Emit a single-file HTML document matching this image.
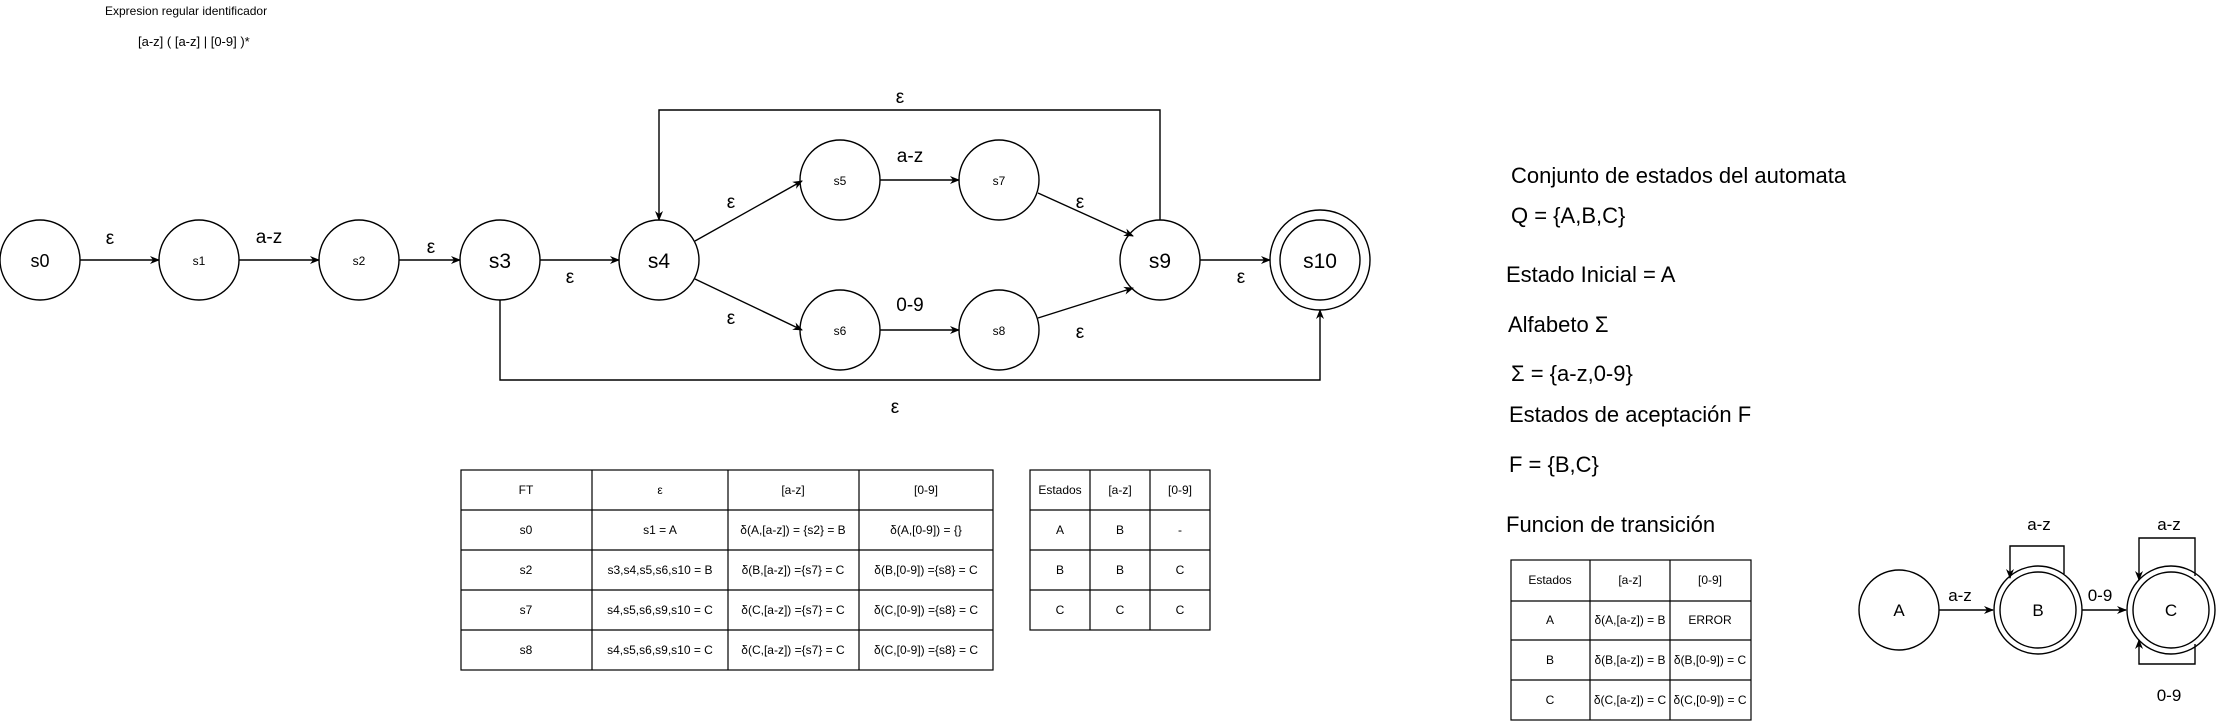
<!DOCTYPE html>
<html><head><meta charset="utf-8"><style>
html,body{margin:0;padding:0;background:#fff}
svg{display:block}
text{font-family:"Liberation Sans",sans-serif;fill:#000}
</style></head><body>
<svg width="2216" height="721" viewBox="0 0 2216 721" xmlns="http://www.w3.org/2000/svg">
<defs><marker id="a" markerWidth="10" markerHeight="10" refX="9" refY="5" orient="auto" markerUnits="userSpaceOnUse"><path d="M0,1 L10,5 L0,9 L3,5 Z" fill="#000"/></marker></defs>
<text x="105" y="15" font-size="12">Expresion regular identificador</text>
<text x="138" y="46" font-size="13">[a-z]  ( [a-z] | [0-9] )*</text>
<g fill="none" stroke="#000" stroke-width="1.4">
<circle cx="40" cy="260" r="40"/><circle cx="199" cy="260" r="40"/><circle cx="359" cy="260" r="40"/>
<circle cx="500" cy="260" r="40"/><circle cx="659" cy="260" r="40"/>
<circle cx="840" cy="180" r="40"/><circle cx="999" cy="180" r="40"/>
<circle cx="840" cy="330" r="40"/><circle cx="999" cy="330" r="40"/>
<circle cx="1160" cy="260" r="40"/><circle cx="1320" cy="260" r="50"/><circle cx="1320" cy="260" r="40"/>
<line x1="80" y1="260" x2="159" y2="260" marker-end="url(#a)"/>
<line x1="239" y1="260" x2="319" y2="260" marker-end="url(#a)"/>
<line x1="399" y1="260" x2="460" y2="260" marker-end="url(#a)"/>
<line x1="540" y1="260" x2="619" y2="260" marker-end="url(#a)"/>
<line x1="695" y1="241" x2="802" y2="181" marker-end="url(#a)"/>
<line x1="695" y1="279" x2="802" y2="330" marker-end="url(#a)"/>
<line x1="880" y1="180" x2="959" y2="180" marker-end="url(#a)"/>
<line x1="880" y1="330" x2="959" y2="330" marker-end="url(#a)"/>
<line x1="1038" y1="193" x2="1133" y2="236" marker-end="url(#a)"/>
<line x1="1038" y1="318" x2="1133" y2="288" marker-end="url(#a)"/>
<line x1="1200" y1="260" x2="1270" y2="260" marker-end="url(#a)"/>
<polyline points="1160,220 1160,110 659,110 659,220" marker-end="url(#a)"/>
<polyline points="500,300 500,380 1320,380 1320,310" marker-end="url(#a)"/>
</g>
<g text-anchor="middle">
<text x="40" y="267" font-size="18">s0</text><text x="199" y="265" font-size="12">s1</text><text x="359" y="265" font-size="12">s2</text>
<text x="500" y="268" font-size="21">s3</text><text x="659" y="268" font-size="21">s4</text>
<text x="840" y="185" font-size="12">s5</text><text x="999" y="185" font-size="12">s7</text>
<text x="840" y="335" font-size="12">s6</text><text x="999" y="335" font-size="12">s8</text>
<text x="1160" y="268" font-size="21">s9</text><text x="1320" y="268" font-size="21">s10</text>
<g font-size="19">
<text x="110" y="244">ε</text><text x="269" y="243">a-z</text><text x="431" y="253">ε</text><text x="570" y="283">ε</text>
<text x="731" y="208">ε</text><text x="731" y="324">ε</text><text x="910" y="162">a-z</text><text x="910" y="311">0-9</text>
<text x="1080" y="208">ε</text><text x="1080" y="338">ε</text><text x="1241" y="283">ε</text>
<text x="900" y="103">ε</text><text x="895" y="413">ε</text>
</g>
</g>
<!-- table 1 -->
<g fill="none" stroke="#000" stroke-width="1.2">
<rect x="461" y="470" width="532" height="200"/>
<line x1="592" y1="470" x2="592" y2="670"/><line x1="728" y1="470" x2="728" y2="670"/><line x1="859" y1="470" x2="859" y2="670"/>
<line x1="461" y1="510" x2="993" y2="510"/><line x1="461" y1="550" x2="993" y2="550"/><line x1="461" y1="590" x2="993" y2="590"/><line x1="461" y1="630" x2="993" y2="630"/>
<rect x="1030" y="470" width="180" height="160"/>
<line x1="1090" y1="470" x2="1090" y2="630"/><line x1="1150" y1="470" x2="1150" y2="630"/>
<line x1="1030" y1="510" x2="1210" y2="510"/><line x1="1030" y1="550" x2="1210" y2="550"/><line x1="1030" y1="590" x2="1210" y2="590"/>
<rect x="1511" y="560" width="240" height="160"/>
<line x1="1590" y1="560" x2="1590" y2="720"/><line x1="1670" y1="560" x2="1670" y2="720"/>
<line x1="1511" y1="601" x2="1751" y2="601"/><line x1="1511" y1="640" x2="1751" y2="640"/><line x1="1511" y1="680" x2="1751" y2="680"/>
</g>
<g text-anchor="middle" font-size="12">
<text x="526" y="494">FT</text><text x="660" y="494">ε</text><text x="793" y="494">[a-z]</text><text x="926" y="494">[0-9]</text>
<text x="526" y="534">s0</text><text x="660" y="534">s1 = A</text><text x="793" y="534">δ(A,[a-z]) = {s2} = B</text><text x="926" y="534">δ(A,[0-9]) = {}</text>
<text x="526" y="574">s2</text><text x="660" y="574">s3,s4,s5,s6,s10 = B</text><text x="793" y="574">δ(B,[a-z]) ={s7} = C</text><text x="926" y="574">δ(B,[0-9]) ={s8} = C</text>
<text x="526" y="614">s7</text><text x="660" y="614">s4,s5,s6,s9,s10 = C</text><text x="793" y="614">δ(C,[a-z]) ={s7} = C</text><text x="926" y="614">δ(C,[0-9]) ={s8} = C</text>
<text x="526" y="654">s8</text><text x="660" y="654">s4,s5,s6,s9,s10 = C</text><text x="793" y="654">δ(C,[a-z]) ={s7} = C</text><text x="926" y="654">δ(C,[0-9]) ={s8} = C</text>
<text x="1060" y="494">Estados</text><text x="1120" y="494">[a-z]</text><text x="1180" y="494">[0-9]</text>
<text x="1060" y="534">A</text><text x="1120" y="534">B</text><text x="1180" y="534">-</text>
<text x="1060" y="574">B</text><text x="1120" y="574">B</text><text x="1180" y="574">C</text>
<text x="1060" y="614">C</text><text x="1120" y="614">C</text><text x="1180" y="614">C</text>
<text x="1550" y="584">Estados</text><text x="1630" y="584">[a-z]</text><text x="1710" y="584">[0-9]</text>
<text x="1550" y="624">A</text><text x="1630" y="624">δ(A,[a-z]) = B</text><text x="1710" y="624">ERROR</text>
<text x="1550" y="664">B</text><text x="1630" y="664">δ(B,[a-z]) = B</text><text x="1710" y="664">δ(B,[0-9]) = C</text>
<text x="1550" y="704">C</text><text x="1630" y="704">δ(C,[a-z]) = C</text><text x="1710" y="704">δ(C,[0-9]) = C</text>
</g>
<g font-size="22">
<text x="1511" y="183">Conjunto de estados del automata</text>
<text x="1511" y="223">Q = {A,B,C}</text>
<text x="1506" y="282">Estado Inicial = A</text>
<text x="1508" y="332">Alfabeto Σ</text>
<text x="1511" y="381">Σ = {a-z,0-9}</text>
<text x="1509" y="422">Estados de aceptación F</text>
<text x="1509" y="472">F = {B,C}</text>
<text x="1506" y="532">Funcion de transición</text>
</g>
<g fill="none" stroke="#000" stroke-width="1.4">
<circle cx="1899" cy="610" r="40"/>
<circle cx="2038" cy="610" r="44"/><circle cx="2038" cy="610" r="38"/>
<circle cx="2171" cy="610" r="44"/><circle cx="2171" cy="610" r="38"/>
<line x1="1939" y1="610" x2="1993" y2="610" marker-end="url(#a)"/>
<line x1="2082" y1="610" x2="2126" y2="610" marker-end="url(#a)"/>
<polyline points="2064,574 2064,546 2010,546 2010,578" marker-end="url(#a)"/>
<polyline points="2195,576 2195,538 2139,538 2139,580" marker-end="url(#a)"/>
<polyline points="2195,644 2195,664 2139,664 2139,640" marker-end="url(#a)"/>
</g>
<g text-anchor="middle" font-size="17">
<text x="1899" y="616">A</text><text x="2038" y="616">B</text><text x="2171" y="616">C</text>
<text x="1960" y="601">a-z</text><text x="2100" y="601">0-9</text>
<text x="2039" y="530">a-z</text><text x="2169" y="530">a-z</text><text x="2169" y="701">0-9</text>
</g>
</svg>
</body></html>
